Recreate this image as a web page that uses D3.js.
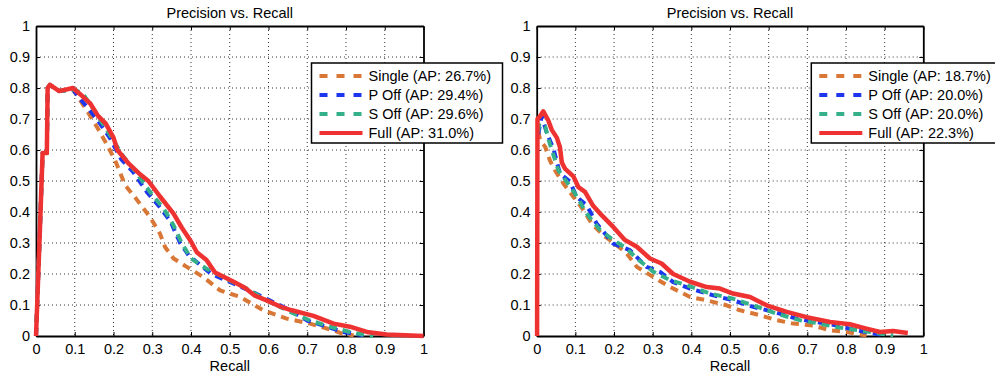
<!DOCTYPE html>
<html lang="en">
<head>
<meta charset="utf-8">
<title>Precision vs. Recall</title>
<script src="https://d3js.org/d3.v7.min.js"></script>
<style>
  body { margin: 0; background: #fff; }
  text { font-family: "Liberation Sans", Arial, sans-serif; }
</style>
</head>
<body>
<script>

var w = 995;
var h = 376;

var ticks = [0, 0.1, 0.2, 0.3, 0.4, 0.5, 0.6, 0.7, 0.8, 0.9, 1];
var tickLabels = ["0", "0.1", "0.2", "0.3", "0.4", "0.5", "0.6", "0.7", "0.8", "0.9", "1"];

var seriesNames = ["Single", "P Off", "S Off", "Full"];
var leftAP = ["26.7%", "29.4%", "29.6%", "31.0%"];
var rightAP = ["18.7%", "20.0%", "20.0%", "22.3%"];

// left panel curves, [recall, precision]
var leftSingle = [[0,0],[0.003,0.1],[0.01,0.34],[0.017,0.59],[0.028,0.59],[0.03,0.8],[0.036,0.81],[0.06,0.79],[0.095,0.795],
  [0.105,0.777],[0.13,0.73],[0.157,0.675],[0.182,0.62],[0.204,0.567],[0.23,0.487],[0.26,0.44],[0.294,0.384],[0.32,0.33],
  [0.333,0.287],[0.355,0.25],[0.389,0.223],[0.432,0.19],[0.475,0.147],[0.527,0.126],[0.587,0.083],[0.647,0.056],
  [0.707,0.04],[0.768,0.018],[0.79,0.008],[0.82,0.002]];
var leftPOff = [[0,0],[0.003,0.1],[0.01,0.34],[0.017,0.59],[0.028,0.59],[0.03,0.8],[0.036,0.81],[0.06,0.79],[0.095,0.795],
  [0.114,0.765],[0.157,0.7],[0.19,0.64],[0.22,0.57],[0.25,0.53],[0.286,0.465],[0.32,0.415],[0.347,0.37],[0.372,0.3],
  [0.394,0.26],[0.423,0.23],[0.453,0.2],[0.49,0.18],[0.55,0.147],[0.595,0.12],[0.656,0.083],[0.7,0.05],[0.75,0.03],
  [0.793,0.013],[0.845,0.002]];
var leftSOff = [[0,0],[0.003,0.1],[0.01,0.34],[0.017,0.59],[0.028,0.59],[0.03,0.8],[0.036,0.81],[0.06,0.79],[0.1,0.795],
  [0.122,0.78],[0.157,0.715],[0.19,0.65],[0.225,0.58],[0.26,0.525],[0.294,0.465],[0.33,0.41],[0.355,0.357],[0.376,0.3],
  [0.4,0.25],[0.44,0.217],[0.49,0.185],[0.544,0.153],[0.595,0.115],[0.656,0.078],[0.707,0.05],[0.759,0.03],
  [0.81,0.013],[0.854,0.002],[0.87,0]];
var leftFull = [[0,0],[0.003,0.1],[0.01,0.34],[0.017,0.59],[0.028,0.59],[0.03,0.8],[0.036,0.81],[0.06,0.79],[0.095,0.8],
  [0.114,0.78],[0.14,0.75],[0.16,0.71],[0.18,0.685],[0.2,0.64],[0.21,0.6],[0.24,0.555],[0.27,0.52],[0.29,0.5],
  [0.32,0.45],[0.355,0.395],[0.376,0.35],[0.4,0.305],[0.415,0.27],[0.44,0.245],[0.462,0.205],[0.51,0.175],
  [0.54,0.155],[0.565,0.13],[0.595,0.115],[0.63,0.095],[0.66,0.083],[0.716,0.065],[0.768,0.04],[0.81,0.03],
  [0.854,0.013],[0.905,0.005],[1,0]];

// right panel curves
var rightSingle = [[0.004,0.66],[0.009,0.632],[0.022,0.61],[0.034,0.567],[0.047,0.535],[0.069,0.492],[0.095,0.449],
  [0.121,0.406],[0.142,0.363],[0.172,0.325],[0.207,0.293],[0.233,0.266],[0.259,0.223],[0.302,0.19],[0.345,0.158],
  [0.397,0.126],[0.44,0.115],[0.491,0.099],[0.526,0.083],[0.578,0.067],[0.621,0.051],[0.664,0.04],[0.716,0.034],
  [0.759,0.018],[0.802,0.013],[0.836,0.005],[0.853,0.002]];
var rightPOff = [[0.004,0.65],[0.013,0.71],[0.026,0.655],[0.043,0.605],[0.06,0.524],[0.086,0.498],[0.103,0.449],
  [0.129,0.422],[0.155,0.363],[0.198,0.298],[0.241,0.277],[0.284,0.223],[0.319,0.207],[0.353,0.174],[0.397,0.153],
  [0.457,0.131],[0.508,0.115],[0.56,0.094],[0.612,0.078],[0.672,0.056],[0.724,0.045],[0.776,0.034],[0.828,0.018],
  [0.871,0.008],[0.905,0.002]];
var rightSOff = [[0.004,0.66],[0.007,0.686],[0.022,0.675],[0.034,0.62],[0.056,0.535],[0.078,0.497],[0.099,0.46],
  [0.129,0.395],[0.164,0.342],[0.198,0.31],[0.233,0.282],[0.259,0.25],[0.302,0.207],[0.345,0.18],[0.388,0.164],
  [0.448,0.137],[0.509,0.12],[0.56,0.099],[0.621,0.072],[0.681,0.051],[0.733,0.04],[0.784,0.027],[0.836,0.018],
  [0.888,0.008],[0.922,0.002]];
var rightFull = [[0.001,0],[0.002,0.7],[0.009,0.71],[0.017,0.725],[0.03,0.695],[0.039,0.665],[0.052,0.64],[0.06,0.61],
  [0.065,0.56],[0.073,0.54],[0.095,0.515],[0.108,0.48],[0.125,0.465],[0.146,0.42],[0.164,0.395],[0.198,0.352],
  [0.228,0.31],[0.259,0.288],[0.293,0.25],[0.323,0.234],[0.353,0.2],[0.397,0.175],[0.44,0.158],[0.474,0.153],
  [0.508,0.137],[0.552,0.126],[0.595,0.099],[0.647,0.078],[0.698,0.061],[0.759,0.045],[0.81,0.038],[0.853,0.024],
  [0.888,0.013],[0.922,0.016],[0.96,0.01]];

var colors = ["#d97736", "#1d35ee", "#34b08a", "#ee3232"];
var dashes = ["8,6", "8,6", "8,6", null];

var svg = d3.select("body").append("svg")
  .attr("width", w)
  .attr("height", h);

svg.append("rect").attr("width", w).attr("height", h).attr("fill", "white");

function drawPanel(x0, x1, curves, ap) {
  var y0 = 336, y1 = 26;
  var x = d3.scaleLinear().domain([0, 1]).range([x0, x1]);
  var y = d3.scaleLinear().domain([0, 1]).range([y0, y1]);
  var g = svg.append("g");

  // grid
  var inner = ticks.slice(1, -1);
  g.selectAll("line.gx").data(inner).enter().append("line")
    .attr("x1", d => x(d)).attr("x2", d => x(d))
    .attr("y1", y1).attr("y2", y0)
    .attr("stroke", "#333").attr("stroke-width", 1).attr("stroke-dasharray", "1,3");
  g.selectAll("line.gy").data(inner).enter().append("line")
    .attr("y1", d => y(d)).attr("y2", d => y(d))
    .attr("x1", x0).attr("x2", x1)
    .attr("stroke", "#333").attr("stroke-width", 1).attr("stroke-dasharray", "1,3");

  // axes with inward ticks on all four sides
  var fmt = (d, i) => tickLabels[i];
  g.append("g").attr("transform", `translate(0,${y0})`)
    .call(d3.axisBottom(x).tickValues(ticks).tickFormat(fmt).tickSizeInner(-4).tickSizeOuter(0).tickPadding(8));
  g.append("g").attr("transform", `translate(${x0},0)`)
    .call(d3.axisLeft(y).tickValues(ticks).tickFormat(fmt).tickSizeInner(-4).tickSizeOuter(0).tickPadding(6));
  g.append("g").attr("transform", `translate(0,${y1})`)
    .call(d3.axisTop(x).tickValues(ticks).tickFormat("").tickSizeInner(-4).tickSizeOuter(0));
  g.append("g").attr("transform", `translate(${x1},0)`)
    .call(d3.axisRight(y).tickValues(ticks).tickFormat("").tickSizeInner(-4).tickSizeOuter(0));
  g.selectAll(".domain").attr("stroke", "#000").attr("stroke-width", 1.8);
  g.selectAll(".tick line").attr("stroke", "#000");
  g.selectAll(".tick text").attr("font-size", "14.5px").attr("fill", "#000")
    .attr("font-family", "'Liberation Sans', Arial, sans-serif");

  // curves
  var line = d3.line().x(d => x(d[0])).y(d => y(d[1]));
  curves.forEach(function(c, i) {
    g.append("path").datum(c)
      .attr("d", line)
      .attr("fill", "none")
      .attr("stroke", colors[i])
      .attr("stroke-width", i == 3 ? 4.5 : 4)
      .attr("stroke-linejoin", "round")
      .attr("stroke-dasharray", dashes[i]);
  });

  // title and label
  g.append("text").attr("x", (x0 + x1) / 2).attr("y", 18)
    .attr("text-anchor", "middle").attr("font-size", "14.5px").text("Precision vs. Recall");
  g.append("text").attr("x", (x0 + x1) / 2).attr("y", 371)
    .attr("text-anchor", "middle").attr("font-size", "14.5px").text("Recall");

  // legend
  var lx = x1 - 112, ly = 63;
  var leg = g.append("g").attr("transform", `translate(${lx},${ly})`);
  leg.append("rect").attr("width", 191).attr("height", 80)
    .attr("fill", "white").attr("stroke", "#000").attr("stroke-width", 1.5);
  seriesNames.forEach(function(name, i) {
    var yy = 13 + i * 19;
    leg.append("line").attr("x1", 8).attr("x2", 51).attr("y1", yy).attr("y2", yy)
      .attr("stroke", colors[i]).attr("stroke-width", 4)
      .attr("stroke-dasharray", i == 3 ? null : "8,9");
    leg.append("text").attr("x", 57).attr("y", yy + 5)
      .attr("font-size", "14.5px").text(name + " (AP: " + ap[i] + ")");
  });
}

drawPanel(36, 423.5, [leftSingle, leftPOff, leftSOff, leftFull], leftAP);
drawPanel(536.7, 923.3, [rightSingle, rightPOff, rightSOff, rightFull], rightAP);

</script>
</body>
</html>
